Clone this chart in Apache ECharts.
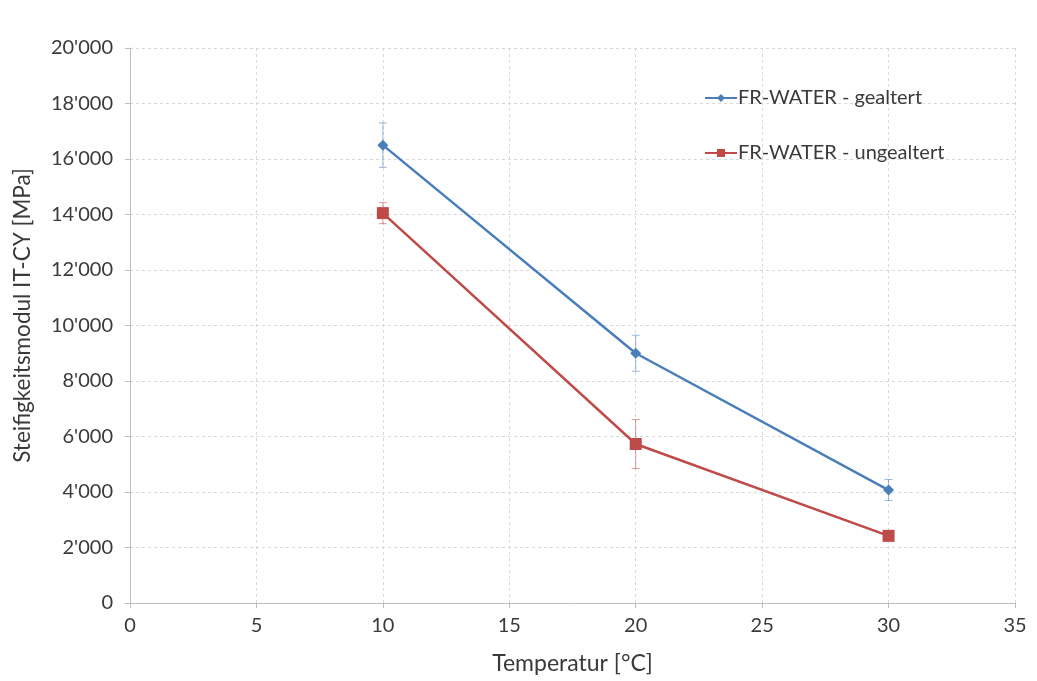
<!DOCTYPE html>
<html><head><meta charset="utf-8">
<script src="https://cdn.jsdelivr.net/npm/echarts@6/dist/echarts.min.js"></script>
<style>html,body{margin:0;padding:0;background:#fff}#c{width:1037px;height:681px}</style>
</head><body><div id="c"></div>
<script>
const temps = [10, 20, 30];
const gealtert = [16500, 9000, 4070];
const gealtertErr = [800, 650, 380];
const ungealtert = [14050, 5730, 2420];
const ungealtertErr = [380, 880, 150];
const seriesNames = ['FR-WATER - gealtert', 'FR-WATER - ungealtert'];
const xTicks = [0, 5, 10, 15, 20, 25, 30, 35];
const yTicks = [0, 2000, 4000, 6000, 8000, 10000, 12000, 14000, 16000, 18000, 20000];

const blue = '#4a7ebb', red = '#be4b48';
const FONT = 'Lato, Open Sans, Liberation Sans, sans-serif';
const fmt = v => v === 0 ? '0' : String(v).replace(/\B(?=(\d{3})+(?!\d))/g, "'");

function errData(x, y, e) { return x.map((t, i) => [t, y[i] - e[i], y[i] + e[i]]); }
function errRender(color) {
  return function (params, api) {
    const x = api.value(0), lo = api.value(1), hi = api.value(2);
    const p1 = api.coord([x, hi]), p2 = api.coord([x, lo]);
    const w = 4;
    const st = { stroke: color, lineWidth: 1 };
    return { type: 'group', children: [
      { type: 'line', shape: { x1: p1[0], y1: p1[1], x2: p2[0], y2: p2[1] }, style: st },
      { type: 'line', shape: { x1: p1[0] - w, y1: p1[1], x2: p1[0] + w, y2: p1[1] }, style: st },
      { type: 'line', shape: { x1: p2[0] - w, y1: p2[1], x2: p2[0] + w, y2: p2[1] }, style: st }
    ]};
  };
}

const chart = echarts.init(document.getElementById('c'));
const axisText = { color: '#3a3a3a', fontSize: 20, fontFamily: FONT };
chart.setOption({
  animation: false,
  backgroundColor: '#fff',
  grid: { left: 130, right: 22, top: 48, bottom: 78 },
  legend: {
    orient: 'vertical', left: 699, top: 83, itemGap: 35, itemWidth: 32, itemHeight: 10,
    data: seriesNames,
    textStyle: { color: '#3a3a3a', fontSize: 20, fontFamily: FONT, padding: [0, 0, 0, -4] }
  },
  xAxis: {
    type: 'value', min: 0, max: 35, interval: 5,
    name: 'Temperatur [°C]', nameLocation: 'middle', nameGap: 49,
    nameTextStyle: { color: '#3a3a3a', fontSize: 23, fontFamily: FONT },
    axisLine: { show: true, lineStyle: { color: '#bfbfbf' } },
    axisTick: { show: true, length: 5, lineStyle: { color: '#bfbfbf' } },
    axisLabel: Object.assign({ margin: 13, formatter: v => xTicks.includes(v) ? String(v) : '' }, axisText),
    splitLine: { show: true, lineStyle: { color: '#d9d9d9', type: [3, 3] } }
  },
  yAxis: {
    type: 'value', min: 0, max: 20000, interval: 2000,
    name: 'Steifigkeitsmodul IT-CY [MPa]', nameLocation: 'middle', nameGap: 96,
    nameTextStyle: { color: '#3a3a3a', fontSize: 22.5, fontFamily: FONT, padding: [0, 0, 0, 20] },
    axisLine: { show: true, lineStyle: { color: '#bfbfbf' } },
    axisTick: { show: true, length: 5, lineStyle: { color: '#bfbfbf' } },
    axisLabel: Object.assign({ margin: 17, formatter: v => yTicks.includes(v) ? fmt(v) : '' }, axisText),
    splitLine: { show: true, lineStyle: { color: '#d9d9d9', type: [3, 3] } }
  },
  series: [
    { type: 'custom', name: 'errG', renderItem: errRender('rgba(74,126,187,0.55)'), data: errData(temps, gealtert, gealtertErr), z: 1, encode: { x: 0, y: [1, 2] }, silent: true },
    { type: 'custom', name: 'errU', renderItem: errRender('rgba(190,75,72,0.55)'), data: errData(temps, ungealtert, ungealtertErr), z: 1, encode: { x: 0, y: [1, 2] }, silent: true },
    { type: 'line', name: seriesNames[0], data: temps.map((t, i) => [t, gealtert[i]]),
      symbol: 'diamond', symbolSize: 11, color: blue, lineStyle: { width: 2.5, color: blue }, itemStyle: { color: blue }, z: 3 },
    { type: 'line', name: seriesNames[1], data: temps.map((t, i) => [t, ungealtert[i]]),
      symbol: 'rect', symbolSize: 12, color: red, lineStyle: { width: 2.5, color: red }, itemStyle: { color: red }, z: 3 }
  ]
});
</script></body></html>
